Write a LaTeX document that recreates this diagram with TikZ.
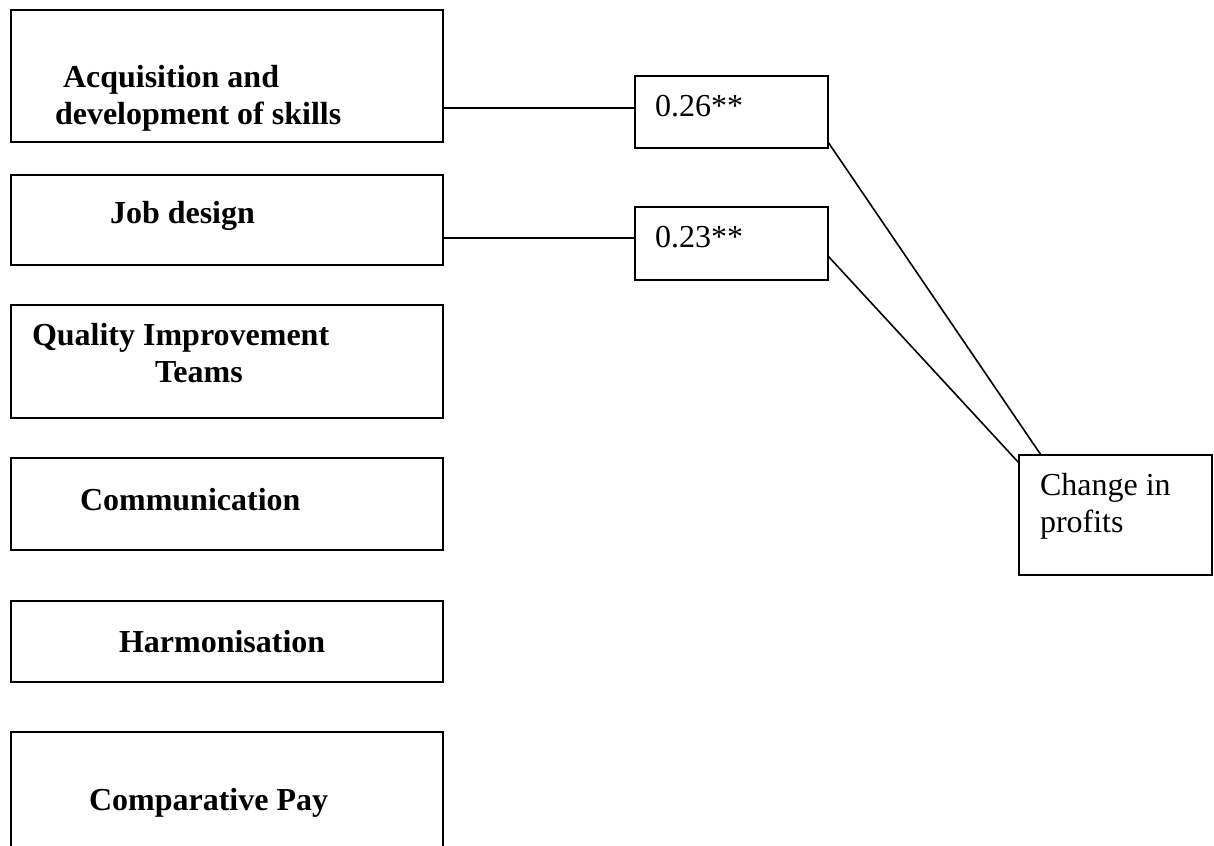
\documentclass[tikz,border=0pt]{standalone}
\usepackage{fontspec}
\setmainfont{Liberation Serif}
\begin{document}
\begin{tikzpicture}[x=1pt,y=-1pt,
  box/.style={draw=black,line width=1.6pt,rectangle,inner sep=0pt,outer sep=0pt,minimum width=#1},
  box/.default=432pt,
  txt/.style={anchor=base west,inner sep=0pt,outer sep=0pt,font=\fontsize{32}{37}\selectfont},
  btxt/.style={txt,font=\fontsize{32}{37}\selectfont\bfseries},
  link/.style={draw=black,line width=1.6pt}]
\clip (0,0) rectangle (1214,845);
\fill[white] (0,0) rectangle (1214,845);

% left column of practice boxes
\node[box,minimum height=132pt] (b1) at (227,76) {};
\node[box,minimum height=90pt]  (b2) at (227,220) {};
\node[box,minimum height=113pt] (b3) at (227,361.5) {};
\node[box,minimum height=92pt]  (b4) at (227,504) {};
\node[box,minimum height=81pt]  (b5) at (227,641.5) {};
\node[box,minimum height=138pt] (b6) at (227,801) {};

\node[btxt] (t1a) at (63,88)  {Acquisition and};
\node[btxt] (t1b) at (55,125) {development of skills};
\node[btxt] (t2)  at (110,223) {Job design};
\node[btxt] (t3a) at (32,345) {Quality Improvement};
\node[btxt] (t3b) at (155,382) {Teams};
\node[btxt] (t4)  at (80,510) {Communication};
\node[btxt] (t5)  at (119,652) {Harmonisation};
\node[btxt] (t6)  at (89,810) {Comparative Pay};

% coefficient boxes
\node[box=193pt,minimum height=72pt] (l1) at (731.5,112) {};
\node[box=193pt,minimum height=73pt] (l2) at (731.5,243.5) {};
\node[txt] (c1) at (655,117) {0.26**};
\node[txt] (c2) at (655,247) {0.23**};

% outcome box
\node[box=193pt,minimum height=120pt] (chg) at (1115.5,515) {};
\node[txt] (o1) at (1040,495) {Change in};
\node[txt] (o2) at (1040,532) {profits};

% connectors
\draw[link] ([yshift=4pt]l1.west -| b1.east) -- ([yshift=4pt]l1.west);
\draw[link] ([yshift=5.5pt]l2.west -| b2.east) -- ([yshift=5.5pt]l2.west);
\draw[link] ([yshift=6pt]l1.south east) -- ([xshift=22pt]chg.north west);
\draw[link] ([yshift=-12.5pt]l2.east) -- ([yshift=-8pt]chg.north west);
\end{tikzpicture}
\end{document}
